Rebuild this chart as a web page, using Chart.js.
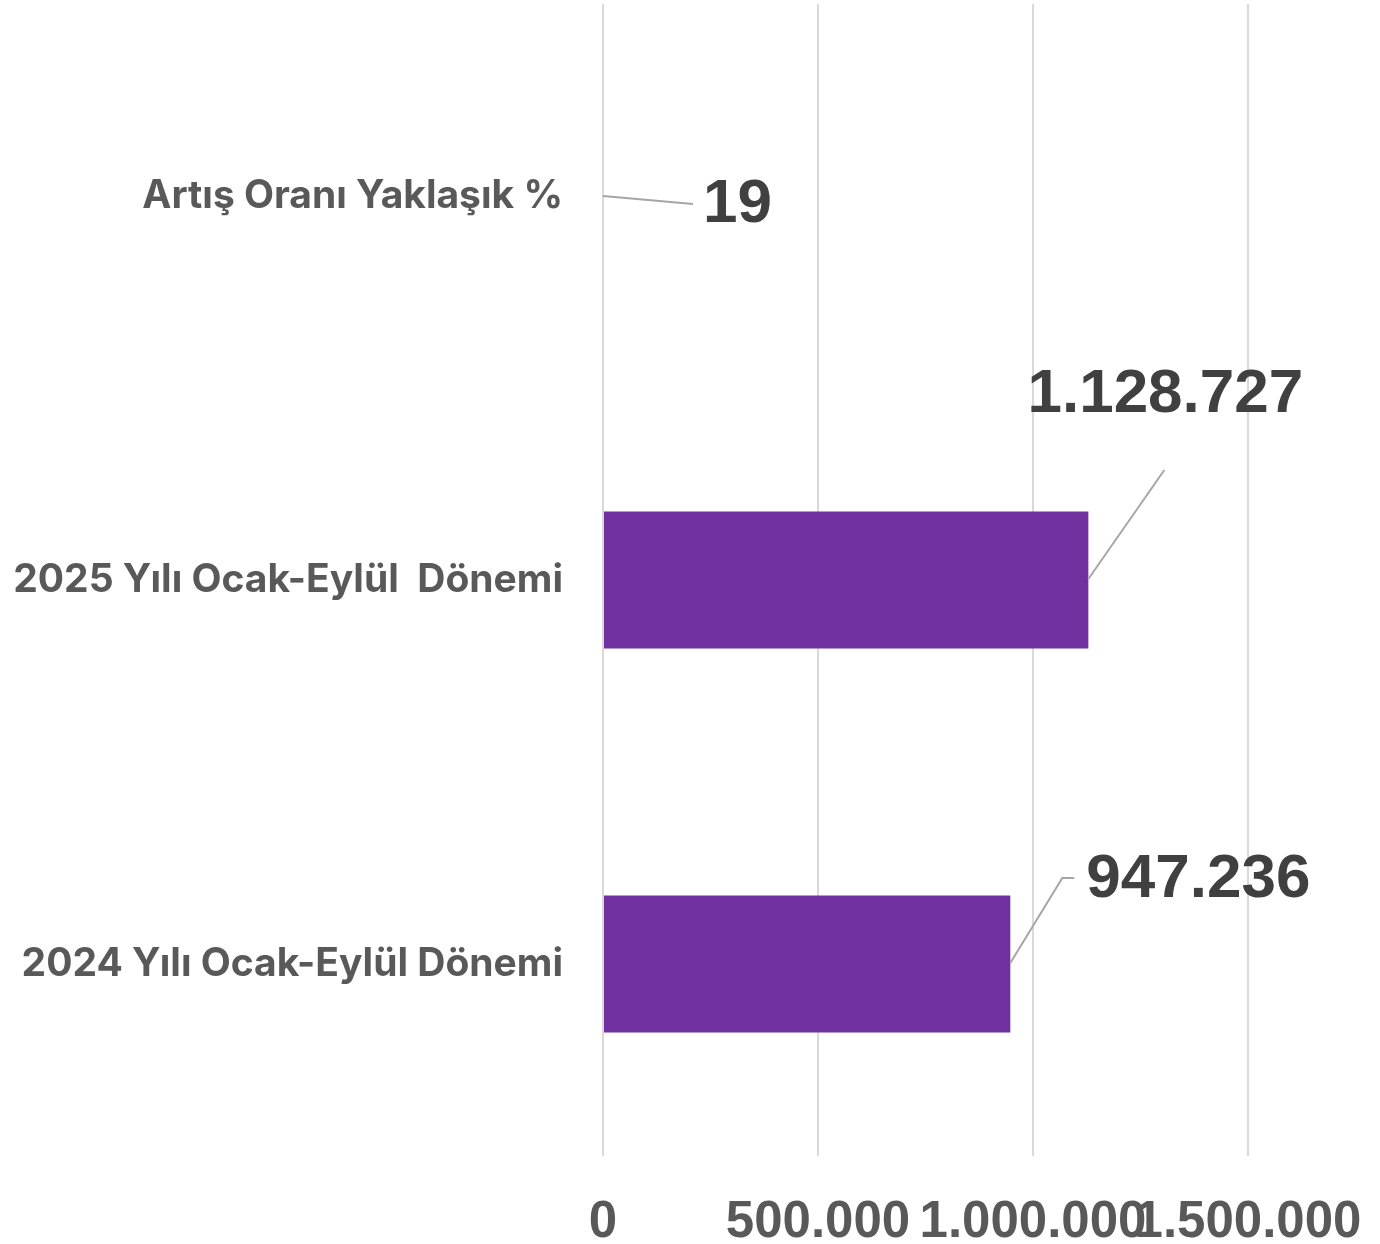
<!DOCTYPE html>
<html lang="tr">
<head>
<meta charset="utf-8">
<title>Ocak-Eylül Dönemi Karşılaştırma</title>
<script src="https://cdn.jsdelivr.net/npm/chart.js@4/dist/chart.umd.min.js"></script>
<style>
    html, body { margin: 0; padding: 0; background: #ffffff; }
    #wrap { width: 1380px; height: 1244px; }
</style>
</head>
<body>
<div id="wrap"><canvas id="donemChart" width="1380" height="1244"></canvas></div>
<script>
// Veriler
const categories = ['Artış Oranı Yaklaşık %', '2025 Yılı Ocak-Eylül  Dönemi', '2024 Yılı Ocak-Eylül Dönemi'];
const values = [19, 1128727, 947236];
const valueLabels = ['19', '1.128.727', '947.236'];
const tickValues = [0, 500000, 1000000, 1500000];
const tickLabels = ['0', '500.000', '1.000.000', '1.500.000'];

// Etiket konumları (çubuk ucuna göre kaydırma) ve kılavuz çizgileri
const labelStyles = [
    { dx: 100, dy: 9, align: 'left', leader: [[0, 0], [90, 8]] },
    { dx: 77, dy: -185, align: 'center', leader: [[0, -1], [76, -110]] },
    { dx: 76, dy: -84, align: 'left', leader: [[0, -1], [52, -86], [64, -86]] }
];

const leaderLabels = {
    id: 'leaderLabels',
    afterDatasetsDraw(chart) {
        const ctx = chart.ctx;
        const meta = chart.getDatasetMeta(0);
        ctx.save();
        meta.data.forEach(function(bar, i) {
            const s = labelStyles[i];
            const x0 = bar.x, y0 = bar.y;
            ctx.strokeStyle = '#a6a6a6';
            ctx.lineWidth = 2;
            ctx.beginPath();
            s.leader.forEach(function(p, k) {
                if (k === 0) ctx.moveTo(x0 + p[0], y0 + p[1]);
                else ctx.lineTo(x0 + p[0], y0 + p[1]);
            });
            ctx.stroke();
            ctx.fillStyle = '#404040';
            ctx.font = 'bold 62px "Liberation Sans", Arial, sans-serif';
            ctx.textAlign = s.align;
            ctx.textBaseline = 'middle';
            ctx.fillText(valueLabels[i], x0 + s.dx, y0 + s.dy);
        });
        ctx.restore();
    }
};

// 1 pikselden ince çubuklar görünmesin (Excel'deki gibi)
function barColor(c) {
    const xs = c.chart.scales.x;
    if (c.parsed && xs && Math.abs(xs.getPixelForValue(c.parsed.x) - xs.getPixelForValue(0)) < 1) {
        return 'rgba(0,0,0,0)';
    }
    return '#7030a0';
}

const ctx = document.getElementById('donemChart').getContext('2d');
new Chart(ctx, {
    type: 'bar',
    data: {
        labels: categories,
        datasets: [{
            data: values,
            backgroundColor: barColor,
            inflateAmount: 0,
            barPercentage: 0.357,
            categoryPercentage: 1
        }]
    },
    options: {
        indexAxis: 'y',
        responsive: false,
        animation: false,
        layout: { padding: { top: 4, right: 3, left: 0, bottom: 0 } },
        plugins: {
            legend: { display: false },
            tooltip: { enabled: false }
        },
        scales: {
            x: {
                min: 0,
                max: 1800000,
                afterBuildTicks: function(scale) {
                    scale.ticks = tickValues.map(v => ({ value: v }));
                },
                afterFit: function(scale) {
                    scale.height = 88;
                    scale.paddingLeft = 0;
                    scale.paddingRight = 0;
                },
                grid: { color: '#d9d9d9', lineWidth: 2, drawTicks: false },
                border: { display: false },
                ticks: {
                    autoSkip: false,
                    maxRotation: 0,
                    minRotation: 0,
                    padding: 36,
                    color: '#595959',
                    font: { family: '"Liberation Sans", Arial, sans-serif', size: 51, weight: 'bold' },
                    callback: function(value) {
                        const idx = tickValues.indexOf(value);
                        return idx >= 0 ? tickLabels[idx] : '';
                    }
                }
            },
            y: {
                afterFit: function(scale) {
                    scale.width = 603;
                    scale.paddingTop = 0;
                    scale.paddingBottom = 0;
                },
                grid: { display: false, drawTicks: false },
                border: { display: false },
                ticks: {
                    padding: 40,
                    color: '#595959',
                    font: { family: 'Inter, Roboto, sans-serif', size: 39, weight: 'bold' }
                }
            }
        }
    },
    plugins: [leaderLabels]
});
</script>
</body>
</html>
